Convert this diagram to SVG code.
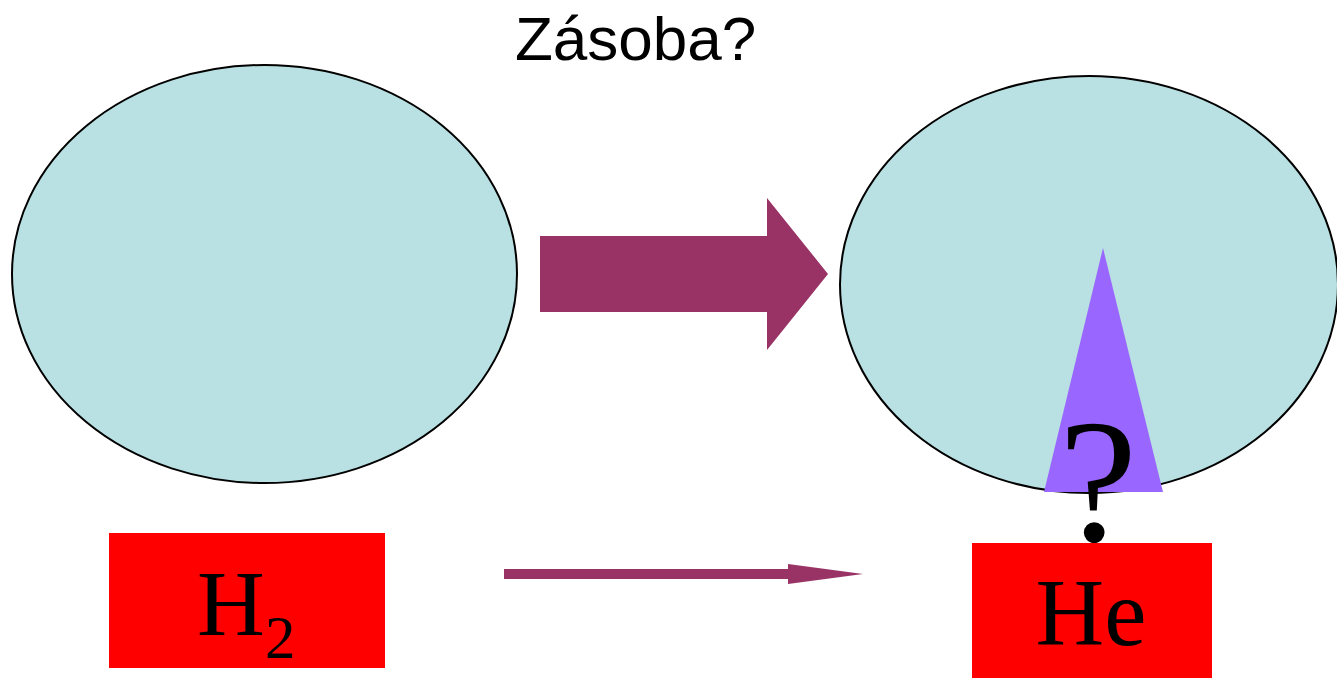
<svg xmlns="http://www.w3.org/2000/svg" width="1337" height="678" viewBox="0 0 1337 678">
<style>
.ell{fill:#b9e0e2;stroke:#000;stroke-width:2}
.box{fill:#ff0000}
.arr{fill:#993366}
.serif{font-family:"Liberation Serif","Times New Roman",serif;fill:#000}
.sans{font-family:"Liberation Sans",Arial,sans-serif;fill:#000}
</style>
<rect width="1337" height="678" fill="#fff"/>
<text class="sans" x="515" y="60" font-size="62">Zásoba?</text>
<g id="cloud-left"><ellipse class="ell" cx="264.5" cy="274" rx="252.5" ry="209"/></g>
<g id="cloud-right"><ellipse class="ell" cx="1089" cy="284.5" rx="249" ry="208.5"/></g>
<g id="connectors">
<polygon class="arr" points="540,236 767,236 767,198 828,274 767,350 767,312 540,312"/>
<polygon class="arr" points="504,569 788,569 788,564 863,574 788,584 788,579 504,579"/>
</g>
<g id="cone">
<polygon fill="#9966ff" points="1103,248 1163,492 1044,492"/>
</g>
<g id="h2">
<rect class="box" x="109" y="533" width="276" height="135"/>
<text class="serif" x="197" y="635" font-size="94">H<tspan font-size="61" dy="23">2</tspan></text>
</g>
<g id="he">
<rect class="box" x="972" y="543" width="240" height="135"/>
<text class="serif" x="1091" y="645" font-size="95" text-anchor="middle">He</text>
</g>
<text class="serif" x="1098" y="541" font-size="176" text-anchor="middle">?</text>
</svg>
